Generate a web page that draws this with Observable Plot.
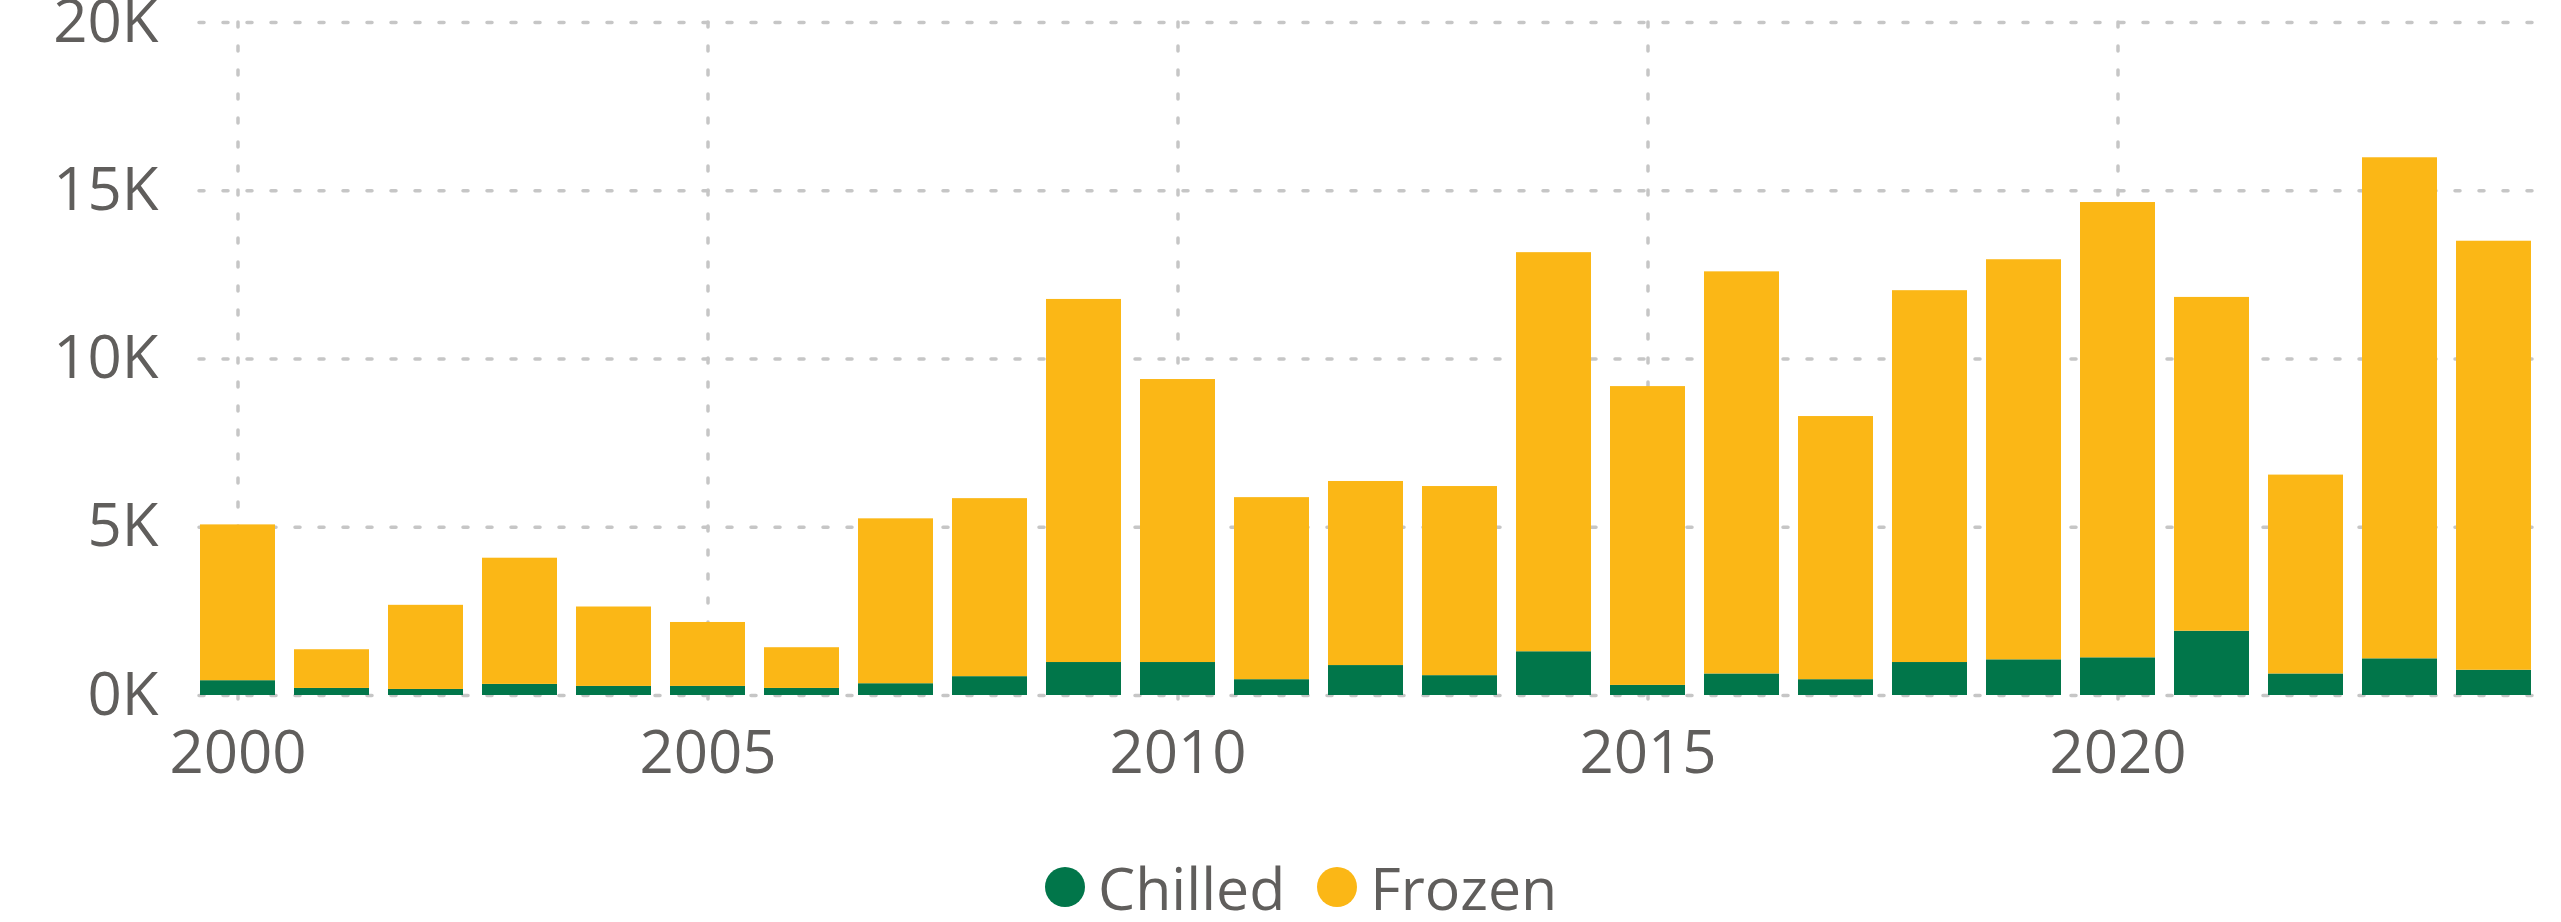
<!DOCTYPE html>
<html>
<head>
<meta charset="utf-8">
<script src="https://cdn.jsdelivr.net/npm/d3@7"></script>
<script src="https://cdn.jsdelivr.net/npm/@observablehq/plot@0.6"></script>
<style>
  html, body { margin: 0; padding: 0; background: #ffffff; }
  #wrap { position: relative; width: 2561px; height: 922px; font-family: "Open Sans", sans-serif; color: #605E5C; }
  #legend { position: absolute; left: 1045px; top: 846px; height: 82px; display: flex; align-items: center; font-size: 59px; line-height: 82px; white-space: nowrap; }
  .sw { width: 40px; height: 40px; border-radius: 50%; display: inline-block; margin-right: 13px; }
  .lab { margin-right: 32px; }
</style>
</head>
<body>
<div id="wrap">
  <div id="chart"></div>
  <div id="legend"></div>
</div>
<script>
const years = [2000,2001,2002,2003,2004,2005,2006,2007,2008,2009,2010,2011,2012,2013,2014,2015,2016,2017,2018,2019,2020,2021,2022,2023,2024];
const chilled = [440,210,180,330,270,270,210,350,560,980,980,470,890,590,1300,300,640,470,980,1060,1120,1910,640,1090,750];
const frozen = [4630,1150,2500,3750,2360,1900,1210,4900,5290,10790,8410,5410,5470,5620,11860,8880,11950,7820,11050,11890,13530,9920,5910,14890,12750];
const seriesNames = ["Chilled", "Frozen"];
const seriesColors = ["#01764A", "#FBB716"];
const yTicks = [0, 5000, 10000, 15000, 20000];
const xTicks = [2000, 2005, 2010, 2015, 2020];

const rows = [];
years.forEach((yr, i) => {
  rows.push({year: yr, type: seriesNames[0], value: chilled[i]});
  rows.push({year: yr, type: seriesNames[1], value: frozen[i]});
});

const gridStyle = {stroke: "#c6c6c6", strokeOpacity: 1, strokeWidth: 3.5, strokeDasharray: "5,19", strokeLinecap: "round"};

const chart = Plot.plot({
  width: 2561,
  height: 800,
  marginLeft: 199,
  marginRight: 28,
  marginTop: 22,
  marginBottom: 105,
  style: {fontFamily: "Open Sans, sans-serif", fontSize: "60px", color: "#605E5C", background: "transparent", overflow: "visible"},
  x: {type: "band", domain: years, paddingInner: 0.2, paddingOuter: 0, axis: null, label: null},
  y: {domain: [0, 20000], axis: null, label: null},
  color: {domain: seriesNames, range: seriesColors},
  marks: [
    Plot.gridY(yTicks, gridStyle),
    Plot.gridX(xTicks, {...gridStyle, insetBottom: -5}),
    Plot.barY(rows, Plot.stackY({x: "year", y: "value", fill: "type", order: seriesNames})),
    Plot.axisY(yTicks, {tickSize: 0, tickPadding: 41, tickFormat: d => (d / 1000) + "K", fontSize: 60, label: null}),
    Plot.axisX(xTicks, {tickSize: 0, tickPadding: 35, tickFormat: d => String(d), fontSize: 60, label: null})
  ]
});
document.getElementById("chart").appendChild(chart);

const legend = document.getElementById("legend");
seriesNames.forEach((name, i) => {
  const sw = document.createElement("span");
  sw.className = "sw";
  sw.style.background = seriesColors[i];
  const lab = document.createElement("span");
  lab.className = "lab";
  lab.textContent = name;
  legend.appendChild(sw);
  legend.appendChild(lab);
});
</script>
</body>
</html>
